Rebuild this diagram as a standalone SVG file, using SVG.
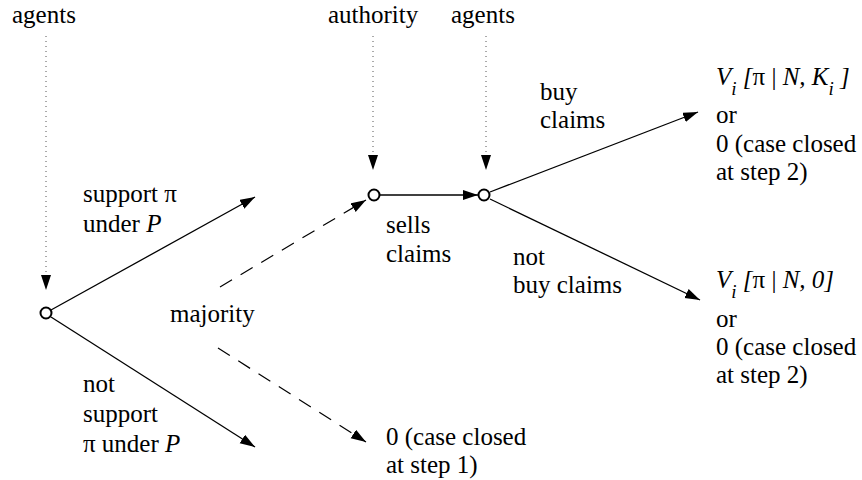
<svg xmlns="http://www.w3.org/2000/svg" width="862" height="480" viewBox="0 0 862 480">
<style>
text{font-size:25px;fill:#000}
.it{font-style:italic}
.sub{font-size:19px;font-style:italic}
.solid{stroke:#000;stroke-width:1.3;fill:none}
.dash{stroke:#000;stroke-width:1.2;fill:none;stroke-dasharray:14 10}
.dot{stroke:#555;stroke-width:1;fill:none;stroke-dasharray:1 4}
.node{fill:#fff;stroke:#000;stroke-width:2}
</style>
<defs>
<marker id="ah" markerUnits="userSpaceOnUse" markerWidth="16" markerHeight="12" refX="15" refY="5" orient="auto">
<path d="M0,0 L15,5 L0,10 Z" fill="#000"/>
</marker>
</defs>
<g id="connectors">
<line class="dot" x1="46" y1="36" x2="46" y2="290" marker-end="url(#ah)"/>
<line class="dot" x1="373" y1="36" x2="373" y2="170" marker-end="url(#ah)"/>
<line class="dot" x1="486" y1="36" x2="486" y2="170" marker-end="url(#ah)"/>
<line class="solid" x1="51" y1="310" x2="255" y2="197" marker-end="url(#ah)"/>
<line class="solid" x1="51" y1="317" x2="255" y2="447" marker-end="url(#ah)"/>
<line class="dash" x1="220" y1="287" x2="366" y2="200" marker-end="url(#ah)"/>
<line class="dash" x1="218" y1="348" x2="366" y2="442" marker-end="url(#ah)"/>
<line class="solid" x1="380" y1="195" x2="478" y2="195" marker-end="url(#ah)"/>
<line class="solid" x1="490" y1="192" x2="698" y2="112" marker-end="url(#ah)"/>
<line class="solid" x1="490" y1="199" x2="700" y2="300" marker-end="url(#ah)"/>
</g>
<g id="n1"><circle class="node" cx="46" cy="313" r="5.5"/></g>
<g id="n2"><circle class="node" cx="374" cy="195" r="5.5"/></g>
<g id="n3"><circle class="node" cx="484" cy="195" r="5.5"/></g>
<g font-family="Liberation Serif, Times New Roman, serif">
<g id="labels">
<text x="12" y="23">agents</text>
<text x="328" y="23">authority</text>
<text x="451" y="23">agents</text>
<text x="83" y="202">support π</text>
<text x="83" y="232">under <tspan class="it">P</tspan></text>
<text x="170" y="322">majority</text>
<text x="83" y="392">not</text>
<text x="83" y="422">support</text>
<text x="83" y="452">π under <tspan class="it">P</tspan></text>
<text x="386" y="233">sells</text>
<text x="386" y="262">claims</text>
<text x="540" y="100">buy</text>
<text x="540" y="128">claims</text>
<text x="513" y="265">not</text>
<text x="513" y="293">buy claims</text>
<text x="386" y="445">0 (case closed</text>
<text x="386" y="473">at step 1)</text>
</g>
<g id="out1">
<text x="716" y="85"><tspan class="it">V</tspan><tspan class="sub" dy="10">i</tspan><tspan class="it" dy="-10"> [</tspan>π | <tspan class="it">N, K</tspan><tspan class="sub" dy="10">i</tspan><tspan class="it" dy="-10"> ]</tspan></text>
<text x="716" y="123">or</text>
<text x="716" y="152">0 (case closed</text>
<text x="716" y="180">at step 2)</text>
</g>
<g id="out2">
<text x="716" y="288"><tspan class="it">V</tspan><tspan class="sub" dy="10">i</tspan><tspan class="it" dy="-10"> [</tspan>π | <tspan class="it">N, 0]</tspan></text>
<text x="716" y="327">or</text>
<text x="716" y="355">0 (case closed</text>
<text x="716" y="383">at step 2)</text>
</g>
</g>
</svg>
